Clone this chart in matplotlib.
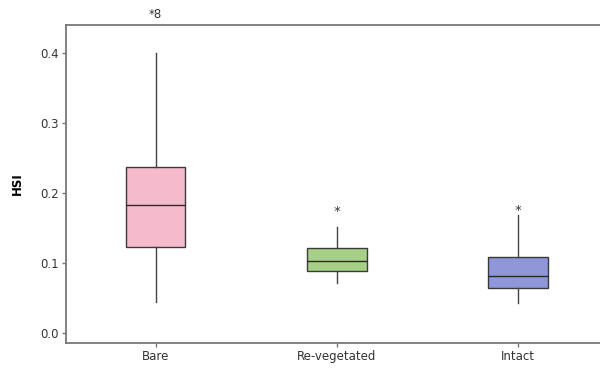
import matplotlib.pyplot as plt

# HSI summary per surface type
groups = ['Bare', 'Re-vegetated', 'Intact']
whislo = [0.045, 0.071, 0.043]
q1 = [0.123, 0.089, 0.064]
med = [0.183, 0.103, 0.082]
q3 = [0.237, 0.121, 0.108]
whishi = [0.400, 0.151, 0.169]
outliers = [[], [0.174], [0.175]]
offscale_count = [8, 0, 0]   # outliers above the plotted range
colors = ['#F5BACB', '#A6D184', '#8F97D8']

fig = plt.figure(figsize=(6, 3.68), dpi=100)
ax = fig.add_axes([0.11, 0.069, 0.895, 0.863])

stats = []
for i, g in enumerate(groups):
    stats.append({'label': g, 'whislo': whislo[i], 'q1': q1[i], 'med': med[i],
                  'q3': q3[i], 'whishi': whishi[i], 'fliers': []})

bp = ax.bxp(stats, positions=[1, 2, 3], widths=0.33, patch_artist=True,
            showcaps=False, showfliers=False,
            boxprops=dict(edgecolor='#3a3a3a', linewidth=1.0),
            medianprops=dict(color='#2a2a2a', linewidth=1.0),
            whiskerprops=dict(color='#444444', linewidth=1.0))
for patch, c in zip(bp['boxes'], colors):
    patch.set_facecolor(c)

# outliers drawn as asterisks
for i, pts in enumerate(outliers):
    for v in pts:
        ax.text(i + 1, v, '*', ha='center', va='center', fontsize=9.5, color='#333333')
    if offscale_count[i]:
        ax.text(i + 1, 0.446, '*' + str(offscale_count[i]), ha='center', va='bottom',
                fontsize=8.5, color='#333333', clip_on=False)

ax.set_xlim(0.506, 3.47)
ax.set_ylim(-0.0134, 0.4396)
ax.set_yticks([0.0, 0.1, 0.2, 0.3, 0.4])
ax.set_yticklabels(['0.0', '0.1', '0.2', '0.3', '0.4'])
ax.set_xticks([1, 2, 3])
ax.set_xticklabels(groups)
ax.tick_params(labelsize=8.5, length=3, width=1, pad=2,
               colors='#777777', labelcolor='#333333')

for side in ['left', 'top', 'bottom']:
    ax.spines[side].set_color('#777777')
    ax.spines[side].set_linewidth(1.3)
ax.spines['right'].set_visible(False)

ax.set_ylabel('HSI', fontsize=8.5, fontweight='bold', labelpad=12)

fig.savefig('out.png', dpi=100)
